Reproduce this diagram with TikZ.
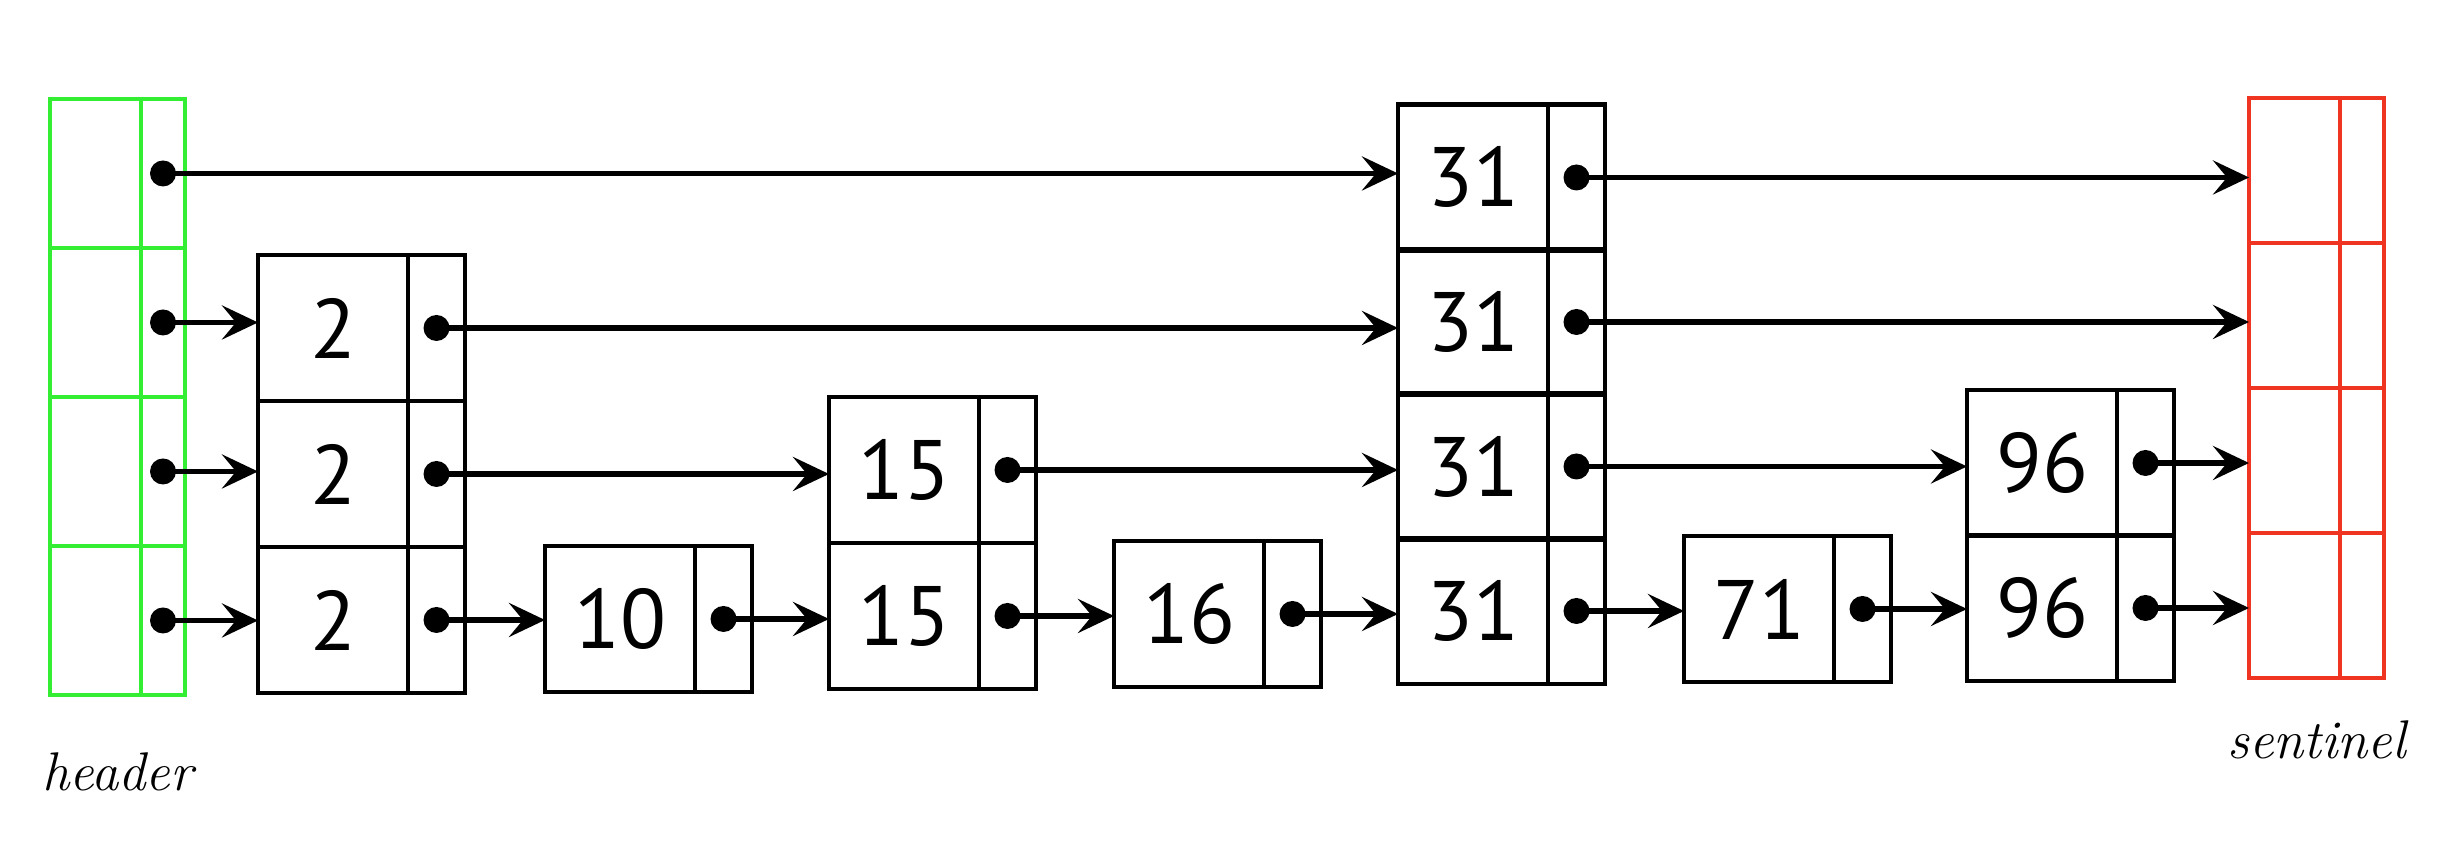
\documentclass[tikz,border=0pt]{standalone}
\usepackage{fontspec}
\newfontfamily\numfont{PT Sans}
\usetikzlibrary{arrows.meta,positioning,calc}
\definecolor{hdgreen}{RGB}{51,238,51}
\definecolor{snred}{RGB}{240,52,34}
\tikzset{every picture/.style={line width=1.3pt}}
\tikzset{
  bkkey/.style={draw, anchor=south west, minimum width=1.50cm, minimum height=1.46cm,
    inner sep=0pt, outer sep=0pt, font=\numfont\fontsize{24}{28}\selectfont},
  bkptr/.style={draw, minimum width=0.57cm, minimum height=1.46cm, inner sep=0pt, outer sep=0pt},
  hdkey/.style={bkkey, draw=hdgreen, minimum width=0.91cm, minimum height=1.49cm},
  hdptr/.style={bkptr, draw=hdgreen, minimum width=0.44cm, minimum height=1.49cm},
  snkey/.style={bkkey, draw=snred, minimum width=0.91cm, minimum height=1.45cm},
  snptr/.style={bkptr, draw=snred, minimum width=0.44cm, minimum height=1.45cm},
  nextarrow/.style={-{Stealth[length=0.36cm,width=0.34cm,inset=0.14cm]}, line width=1.6pt},
  lbl/.style={font=\itshape\fontsize{15.5}{18}\selectfont}
}
% #1 名字 #2 x #3 y #4 层数 #5 键值 #6 样式 #7 层高
\newcommand{\sktower}[7]{%
  \foreach \l in {1,...,#4}{%
    \node[#6key] (#1k\l) at (#2,{#3+(\l-1)*#7}) {#5};
    \node[#6ptr, right=0pt of #1k\l] (#1p\l) {};
  }%
}

\begin{document}
\begin{tikzpicture}
    \useasboundingbox (0,0) rectangle (24.54,8.44);

    % 各个结点（塔）
    \sktower{hd}{0.50}{1.49}{4}{}{hd}{1.49}
    \sktower{n2}{2.58}{1.51}{3}{2}{bk}{1.46}
    \sktower{n10}{5.45}{1.52}{1}{10}{bk}{1.46}
    \sktower{n15}{8.29}{1.55}{2}{15}{bk}{1.46}
    \sktower{n16}{11.14}{1.57}{1}{16}{bk}{1.46}
    \sktower{n31}{13.98}{1.60}{4}{31}{bk}{1.445}
    \sktower{n71}{16.84}{1.62}{1}{71}{bk}{1.46}
    \sktower{n96}{19.67}{1.63}{2}{96}{bk}{1.45}
    \sktower{sn}{22.49}{1.66}{4}{}{sn}{1.45}

    % 指针圆点
    \foreach \n/\m in {hd/4,n2/3,n10/1,n15/2,n16/1,n31/4,n71/1,n96/2}
      \foreach \l in {1,...,\m}
        \fill (\n p\l.center) circle (0.13);

    % 第一层
    \foreach \a/\b in {hd/n2,n2/n10,n10/n15,n15/n16,n16/n31,n31/n71,n71/n96,n96/sn}
      \draw[nextarrow] (\a p1.center) -- (\a p1.center -| \b k1.west);
    % 第二层
    \foreach \a/\b in {hd/n2,n2/n15,n15/n31,n31/n96,n96/sn}
      \draw[nextarrow] (\a p2.center) -- (\a p2.center -| \b k2.west);
    % 第三层
    \foreach \a/\b in {hd/n2,n2/n31,n31/sn}
      \draw[nextarrow] (\a p3.center) -- (\a p3.center -| \b k3.west);
    % 第四层
    \foreach \a/\b in {hd/n31,n31/sn}
      \draw[nextarrow] (\a p4.center) -- (\a p4.center -| \b k4.west);

    % 标注
    \node[lbl] (hdlbl) at ($(hdk1.south west)!0.5!(hdp1.south east)+(0,-0.77)$) {header};
    \node[lbl] (snlbl) at ($(snk1.south west)!0.5!(snp1.south east)+(0,-0.62)$) {sentinel};
\end{tikzpicture}
\end{document}
